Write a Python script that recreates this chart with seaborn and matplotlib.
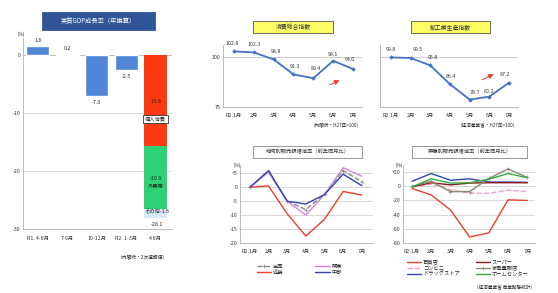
import numpy as np
import pandas as pd
import matplotlib
matplotlib.use("Agg")
import matplotlib.pyplot as plt
from matplotlib.patches import Rectangle
import seaborn as sns

W, H = 558, 293

# 実質GDP成長率（年換算）
gdp_quarters = ["R1. 4-6月", "7-9月", "10-12月", "R2. 1-3月", "4-6月"]
gdp_growth = [1.6, 0.2, -7.0, -2.5]
q2_parts = ["個人消費", "外需等", "その他"]
q2_values = [-15.6, -10.9, -1.6]
q2_total = -28.1

# 月次指数
months = ["R2.1月", "2月", "3月", "4月", "5月", "6月", "7月"]
consumption_idx = [102.8, 102.3, 98.8, 91.3, 89.4, 98.1, 94.0]
production_idx = [99.8, 99.5, 95.8, 86.4, 78.7, 80.2, 87.2]

# 地域別販売額増減率
region_names = ["全国", "近畿", "関東", "中部"]
region_all = [0.0, 5.5, -5.0, -8.0, -2.5, 6.0, 2.0]
region_kinki = [0.0, 0.5, -9.5, -17.5, -11.5, -1.5, -2.8]
region_kanto = [0.0, 5.5, -5.0, -10.0, -2.6, 7.0, 4.0]
region_chubu = [0.0, 6.0, -5.0, -6.0, -2.6, 4.7, 0.6]

# 業態別販売額増減率
biz_names = ["百貨店", "コンビニ", "ドラッグストア", "スーパー", "家電量販店", "ホームセンター"]
biz_dept = [-3.1, -12.2, -33.4, -71.5, -65.6, -19.1, -20.0]
biz_conv = [-1.0, 3.0, -5.0, -10.0, -10.0, -5.5, -7.5]
biz_drug = [7.0, 18.0, 8.5, 10.5, 6.0, 6.0, 5.5]
biz_super = [-1.0, 5.0, 2.0, 4.5, 5.0, 5.0, 5.0]
biz_elec = [0.0, 7.0, -7.5, -7.5, 11.0, 24.5, 12.5]
biz_home = [-1.0, 10.5, 4.5, 5.0, 10.0, 18.0, 12.0]

sns.set_theme(style="white")
plt.rcParams["font.family"] = ["Noto Sans CJK JP", "DejaVu Sans"]
plt.rcParams["axes.unicode_minus"] = False

fig = plt.figure(figsize=(W / 100, H / 100), dpi=100)
FS = 3.8


def px_axes(x0, y0, x1, y1):
    return fig.add_axes([x0 / W, 1 - y1 / H, (x1 - x0) / W, (y1 - y0) / H])


def title_box(x0, y0, x1, y1, text, fc, tc, ec, fs=4.2):
    fig.patches.append(Rectangle((x0 / W, 1 - y1 / H), (x1 - x0) / W, (y1 - y0) / H,
                                 transform=fig.transFigure, fc=fc, ec=ec, lw=0.6))
    fig.text((x0 + x1) / 2 / W, 1 - (y0 + y1) / 2 / H, text, ha="center", va="center",
             fontsize=fs, color=tc)


def style_axes(ax):
    for s in ["top", "right"]:
        ax.spines[s].set_visible(False)
    for s in ["left", "bottom"]:
        ax.spines[s].set_color("#b0b0b0")
        ax.spines[s].set_linewidth(0.6)
    ax.tick_params(axis="both", labelsize=FS, length=0, pad=2, colors="#333333")
    ax.set_xlabel("")
    ax.set_ylabel("")


# ---- 実質GDP成長率 ----
ax1 = px_axes(23, 38, 172, 229)
df_gdp = pd.DataFrame({"quarter": gdp_quarters[:4], "growth": gdp_growth})
sns.barplot(data=df_gdp, x="quarter", y="growth", order=gdp_quarters,
            color="#4F86D8", saturation=1, width=0.77, ax=ax1)
bottom = 0
for val, col in zip(q2_values, ["#FF3A10", "#2ED174", "#D6E8F5"]):
    ax1.bar(4, val, bottom=bottom, width=0.77, color=col, lw=0)
    bottom += val
ax1.set_xlim(-0.5, 4.55)
ax1.set_ylim(-30, 3)
ax1.set_yticks([0, -10, -20, -30])
ax1.set_yticklabels(["0", "-10", "-20", "-30"])
for y in [-10, -20]:
    ax1.axhline(y, color="#d0d0d0", lw=0.5, zorder=0)
ax1.axhline(0, color="#b0b0b0", lw=0.6, zorder=0)
style_axes(ax1)
ax1.tick_params(axis="x", pad=5)
for i, v in enumerate(gdp_growth):
    ax1.annotate(f"{v:.1f}", (i, v), xytext=(0, 2.5 if v > 0 else -3),
                 textcoords="offset points", ha="center",
                 va="bottom" if v > 0 else "top", fontsize=FS)
ax1.text(4, q2_values[0] / 2 - 0.2, f"{q2_values[0]:.1f}", ha="center", va="center",
         fontsize=FS, color="#222222")
ax1.text(4, q2_values[0] + 4.6, q2_parts[0], ha="center", va="center", fontsize=FS,
         bbox=dict(boxstyle="square,pad=0.35", fc="white", ec="#333333", lw=0.6))
ax1.text(4, q2_values[0] - 5.6, f"{q2_values[1]:.1f}", ha="center", va="center",
         fontsize=FS, color="#222222")
ax1.text(4, q2_values[0] - 7.1, q2_parts[1], ha="center", va="center", fontsize=FS)
ax1.text(4.05, q2_total + 1.2, f"{q2_parts[2]}{q2_values[2]:.1f}", ha="center",
         va="center", fontsize=FS)
ax1.text(4.05, q2_total - 1.1, f"{q2_total:.1f}", ha="center", va="center", fontsize=FS)
ax1.text(-0.45, 3.2, "(%)", ha="right", va="bottom", fontsize=FS - 0.4)
title_box(42, 12, 155, 30, "実質GDP成長率（年換算）", "#2F5597", "white", "#2F5597", fs=4.5)
fig.text(168 / W, 1 - 257 / H, "（内閣府・2次速報値）", ha="right", va="center", fontsize=FS - 0.4)

LINE_BLUE = "#4472C4"


def index_panel(x0, x1, values, show_y, label_offsets, arrow, source, title, tx0, tx1):
    ax = px_axes(x0, 45, x1, 107)
    sns.lineplot(x=range(len(values)), y=values, ax=ax, color=LINE_BLUE, lw=1.3,
                 marker="D", markersize=2.3, markeredgewidth=0)
    ax.set_ylim(75, 106)
    ax.set_yticks([75, 100])
    ax.set_xticks(range(len(months)))
    ax.set_xticklabels(months)
    ax.axhline(100, color="#b8b8b8", lw=0.5, zorder=0)
    style_axes(ax)
    ax.tick_params(axis="x", pad=4)
    if not show_y:
        ax.set_yticklabels([])
    for i, v in enumerate(values):
        dx, dy = label_offsets[i]
        ax.annotate(f"{v:.1f}", (i, v), xytext=(dx, dy), textcoords="offset points",
                    ha="center", va="bottom", fontsize=FS, color="#333333")
    ax.annotate("", xy=arrow[1], xytext=arrow[0],
                arrowprops=dict(arrowstyle="-|>,head_length=0.25,head_width=0.12",
                                color="#E8402A", lw=0.7))
    ax.set_xlim(-0.55, 6.45)
    title_box(tx0, 21, tx1, 33, title, "#FFFF66", "#333333", "#555555")
    fig.text(x1 / W, 1 - 126 / H, source, ha="right", va="center", fontsize=FS - 0.5)
    return ax


ax2 = index_panel(223, 362, consumption_idx, True,
                  [(-1, 4), (0, 4), (2, 4), (1, 4), (2, 5), (0, 3), (-2, 5)],
                  [(4.7, 85.5), (5.45, 89)], "（内閣府・H27年=100）", "消費総合指数", 253, 333)
ax3 = index_panel(380, 518, production_idx, False,
                  [(0, 4), (5, 4), (2, 4), (1, 4), (4, 3), (0, 2), (-3, 4)],
                  [(4.5, 88), (5.35, 92)], "（経済産業省・H27年=100）", "鉱工業生産指数", 411, 490)


def change_panel(x0, x1, ylim, yticks, ylabels, series, names, colors, styles, title,
                 tx0, tx1, legend_y, legend_x, colspace):
    ax = px_axes(x0, 165, x1, 243)
    for vals, name, col, (ls, mk) in zip(series, names, colors, styles):
        sns.lineplot(x=range(len(vals)), y=vals, ax=ax, color=col, lw=1.0, ls=ls,
                     marker=mk, markersize=2.5, markeredgewidth=0.5, markeredgecolor=col,
                     label=name)
    ax.set_ylim(*ylim)
    ax.set_yticks(yticks)
    ax.set_yticklabels(ylabels)
    for y in yticks[:-1]:
        ax.axhline(y, color="#c8c8c8", lw=0.5, zorder=0)
    ax.set_xticks(range(len(months)))
    ax.set_xticklabels(months)
    style_axes(ax)
    ax.tick_params(axis="x", pad=4)
    ax.text(-0.5, ylim[1], "(%)", ha="right", va="center", fontsize=FS - 0.4,
            transform=ax.transData)
    ax.legend(loc="upper left", bbox_to_anchor=(legend_x / W, 1 - legend_y / H),
              bbox_transform=fig.transFigure, ncol=2, frameon=False, fontsize=FS,
              handlelength=2.8, handletextpad=0.3, columnspacing=colspace,
              labelspacing=0.2, borderpad=0)
    title_box(tx0, 146, tx1, 158, title, "white", "#333333", "#888888", fs=3.8)
    return ax


ax4 = change_panel(240, 373, (-20, 8), [5, 0, -5, -10, -15, -20],
                   ["+5", "0", "-5", "-10", "-15", "-20"],
                   [region_all, region_kinki, region_kanto, region_chubu], region_names,
                   ["#888888", "#E8402A", "#CC88DD", "#3344AA"],
                   [("--", "+"), ("-", None), ("-", None), ("-", None)],
                   "地域別販売額増減率（前年同月比）", 253, 362, 261, 254, 6.0)
ax4.set_xlim(-0.53, 6.6)

ax5 = change_panel(403, 535, (-80, 30), [20, 0, -20, -40, -60, -80],
                   ["+20", "0", "-20", "-40", "-60", "-80"],
                   [biz_dept, biz_conv, biz_drug, biz_super, biz_elec, biz_home], biz_names,
                   ["#E8402A", "#FF99CC", "#3344BB", "#8B1A1A", "#8A8A70", "#33AA44"],
                   [("-", None), ("--", None), ("-", None), ("-", None), ("-", "+"), ("-", None)],
                   "業態別販売額増減率（前年同月比）", 412, 527, 257, 404, 3.0)
ax5.set_xlim(-0.47, 6.4)
fig.text(535 / W, 1 - 287 / H, "（経済産業省 商業動態統計）", ha="right", va="center",
         fontsize=FS - 0.5)

fig.savefig("out.png", dpi=100)
